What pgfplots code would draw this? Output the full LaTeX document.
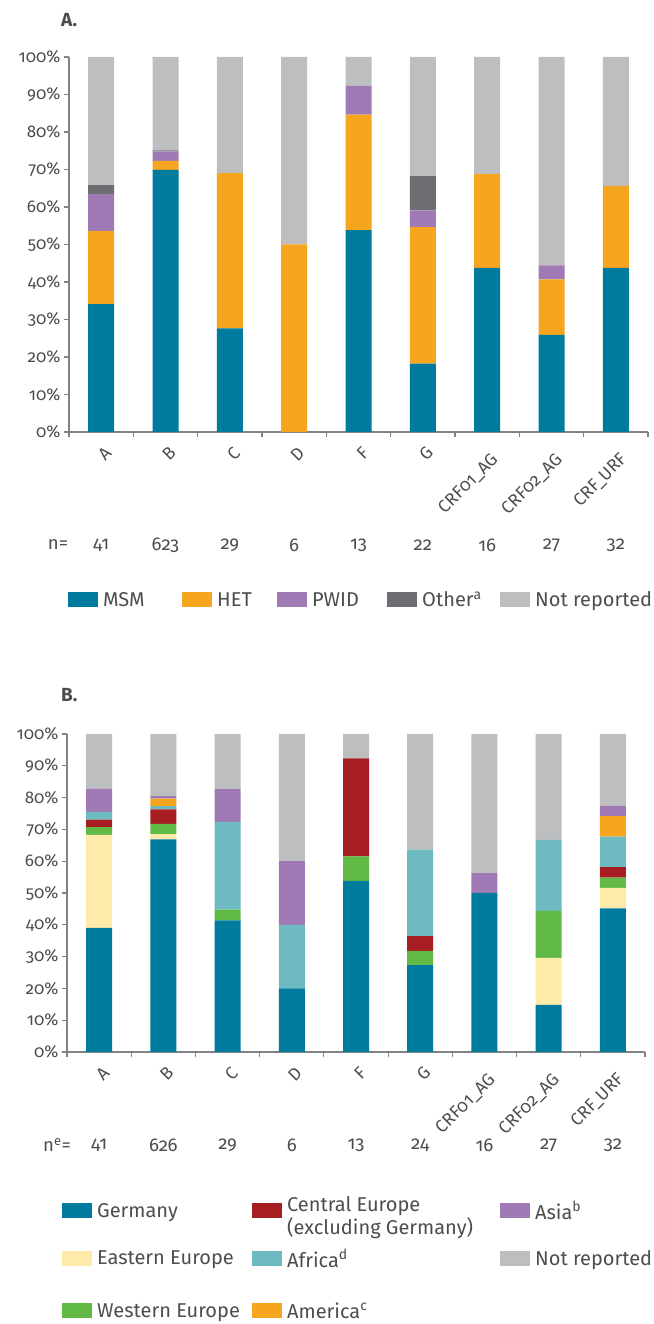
\documentclass[border=0pt]{standalone}
\usepackage{fontspec}
\setmainfont{Fira Sans}[Numbers=OldStyle]
\usepackage{pgfplots}
\pgfplotsset{compat=1.18}
\definecolor{msm}{HTML}{007B9E}
\definecolor{het}{HTML}{F6A51E}
\definecolor{pwid}{HTML}{A07AB4}
\definecolor{oth}{HTML}{6D6E71}
\definecolor{nr}{HTML}{BCBEC0}
\definecolor{cen}{HTML}{A61D22}
\definecolor{eas}{HTML}{FEEBA9}
\definecolor{afr}{HTML}{6DBAC0}
\definecolor{wes}{HTML}{62BA46}
\definecolor{axisgray}{HTML}{808285}
\definecolor{txt}{HTML}{4D4D4F}
\pgfplotsset{
  swatch/.style={legend image code/.code={\fill[##1] (0pt,-7pt) rectangle (30pt,8pt);}},
  swatchtall/.style={legend image code/.code={\path[fill=none,draw=none] (0pt,-7pt) rectangle (30pt,19pt); \fill[##1] (0pt,-7pt) rectangle (30pt,8pt);}},
  mybars/.style={
    ybar stacked, bar width=26pt, scale only axis, clip=false,
    xmin=-0.5, xmax=8.5, ymin=0, ymax=100,
    axis lines*=left,
    axis line style={draw=axisgray, line width=1.2pt, -},
    xtick={-0.5,0.5,...,8.5}, xticklabels={},
    ytick={0,10,...,100},
    yticklabels={0\%,10\%,20\%,30\%,40\%,50\%,60\%,70\%,80\%,90\%,100\%},
    tick align=outside, major tick length=5pt,
    tick style={draw=axisgray, line width=1.2pt},
    yticklabel style={font=\fontsize{17}{19}\selectfont, text=txt},
    every axis plot/.append style={draw=none},
    legend cell align=left,
  },
}
\tikzset{
  cat/.style={rotate=45, anchor=east, font=\fontsize{17.5}{19}\selectfont, text=txt, inner sep=1pt},
  nval/.style={font=\fontsize{18.5}{20}\selectfont, text=txt},
}
\begin{document}
\begin{tikzpicture}[x=1pt,y=1pt]
\useasboundingbox (0,0) rectangle (653,1324);
\node[anchor=west, font=\fontsize{19}{22}\selectfont\bfseries, text=txt, inner sep=0pt] at (61,1304) {A.};
\node[anchor=west, font=\fontsize{19}{22}\selectfont\bfseries, text=txt, inner sep=0pt] at (61,629) {B.};

% ---------------- Panel A ----------------
\begin{axis}[mybars, at={(69pt,892pt)}, anchor=south west, width=579pt, height=375pt,
  legend columns=5,
  legend style={draw=none, fill=none, inner sep=0pt, at={(axis description cs:-0.0017,-0.448)}, anchor=west,
    font=\fontsize{20}{24}\selectfont, text=txt, nodes={inner sep=0pt},
    /tikz/column sep=5pt, /tikz/every even column/.append style={column sep=0pt}},
]
\addplot+[fill=msm, forget plot] coordinates {(0,34.1) (1,69.9) (2,27.6) (3,0) (4,53.8) (5,18.2) (6,43.75) (7,25.9) (8,43.75)};
\addplot+[fill=het, forget plot] coordinates {(0,19.5) (1,2.4) (2,41.4) (3,50) (4,30.8) (5,36.4) (6,25) (7,14.8) (8,21.9)};
\addplot+[fill=pwid, forget plot] coordinates {(0,9.8) (1,2.5) (2,0) (3,0) (4,7.7) (5,4.5) (6,0) (7,3.7) (8,0)};
\addplot+[fill=oth, forget plot] coordinates {(0,2.4) (1,0.3) (2,0) (3,0) (4,0) (5,9.1) (6,0) (7,0) (8,0)};
\addplot+[fill=nr, forget plot] coordinates {(0,34.2) (1,24.9) (2,31) (3,50) (4,7.7) (5,31.8) (6,31.25) (7,55.6) (8,34.35)};
\addlegendimage{swatch, fill=msm}\addlegendentry{\makebox[79pt][l]{MSM}}
\addlegendimage{swatch, fill=het}\addlegendentry{\makebox[60pt][l]{HET}}
\addlegendimage{swatch, fill=pwid}\addlegendentry{\makebox[75pt][l]{PWID}}
\addlegendimage{swatch, fill=oth}\addlegendentry{\makebox[78pt][l]{Other\textsuperscript{a}}}
\addlegendimage{swatch, fill=nr}\addlegendentry{Not reported}
\path (axis cs:0,0) ++(8pt,-17pt) node[cat]{A};
\path (axis cs:1,0) ++(8pt,-17pt) node[cat]{B};
\path (axis cs:2,0) ++(8pt,-17pt) node[cat]{C};
\path (axis cs:3,0) ++(8pt,-17pt) node[cat]{D};
\path (axis cs:4,0) ++(8pt,-17pt) node[cat]{F};
\path (axis cs:5,0) ++(8pt,-17pt) node[cat]{G};
\path (axis cs:6,0) ++(9pt,-24pt) node[cat]{CRF01\_AG};
\path (axis cs:7,0) ++(9pt,-24pt) node[cat]{CRF02\_AG};
\path (axis cs:8,0) ++(9pt,-24pt) node[cat]{CRF\_URF};
\path (axis cs:-0.5,0) ++(-11pt,-113pt) node[nval]{n=};
\path (axis cs:0,0) ++(0pt,-113pt) node[nval]{41};
\path (axis cs:1,0) ++(0pt,-113pt) node[nval]{623};
\path (axis cs:2,0) ++(0pt,-113pt) node[nval]{29};
\path (axis cs:3,0) ++(0pt,-113pt) node[nval]{6};
\path (axis cs:4,0) ++(0pt,-113pt) node[nval]{13};
\path (axis cs:5,0) ++(0pt,-113pt) node[nval]{22};
\path (axis cs:6,0) ++(0pt,-113pt) node[nval]{16};
\path (axis cs:7,0) ++(0pt,-113pt) node[nval]{27};
\path (axis cs:8,0) ++(0pt,-113pt) node[nval]{32};
\end{axis}

% ---------------- Panel B ----------------
\begin{axis}[mybars, at={(67pt,272pt)}, anchor=south west, width=578pt, height=318pt,
  legend columns=3,
  legend style={draw=none, fill=none, inner sep=0pt, at={(axis description cs:-0.0087,-0.4525)}, anchor=north west,
    font=\fontsize{20}{22}\selectfont, text=txt, nodes={inner sep=0pt},
    /tikz/column sep=5pt, /tikz/every even column/.append style={column sep=0pt},
    /tikz/row sep=23.5pt},
]
\addplot+[fill=msm, forget plot] coordinates {(0,39.0) (1,66.9) (2,41.4) (3,20) (4,53.8) (5,27.3) (6,50) (7,14.8) (8,45.2)};
\addplot+[fill=eas, forget plot] coordinates {(0,29.3) (1,1.6) (2,0) (3,0) (4,0) (5,0) (6,0) (7,14.8) (8,6.4)};
\addplot+[fill=wes, forget plot] coordinates {(0,2.4) (1,3.2) (2,3.4) (3,0) (4,7.7) (5,4.5) (6,0) (7,14.8) (8,3.2)};
\addplot+[fill=cen, forget plot] coordinates {(0,2.4) (1,4.6) (2,0) (3,0) (4,30.8) (5,4.6) (6,0) (7,0) (8,3.3)};
\addplot+[fill=afr, forget plot] coordinates {(0,2.4) (1,1.0) (2,27.6) (3,20) (4,0) (5,27.2) (6,0) (7,22.3) (8,9.6)};
\addplot+[fill=het, forget plot] coordinates {(0,0) (1,2.4) (2,0) (3,0) (4,0) (5,0) (6,0) (7,0) (8,6.5)};
\addplot+[fill=pwid, forget plot] coordinates {(0,7.3) (1,0.8) (2,10.3) (3,20) (4,0) (5,0) (6,6.25) (7,0) (8,3.2)};
\addplot+[fill=nr, forget plot] coordinates {(0,17.2) (1,19.5) (2,17.3) (3,40) (4,7.7) (5,36.4) (6,43.75) (7,33.3) (8,22.6)};
\addlegendimage{swatch, fill=msm}\addlegendentry{\makebox[155pt][l]{Germany}}
\addlegendimage{swatch, fill=cen}\addlegendentry{\makebox[213pt][l]{\begin{tabular}{@{}l@{}}Central Europe\\(excluding Germany)\end{tabular}}}
\addlegendimage{swatch, fill=pwid}\addlegendentry{Asia\textsuperscript{b}}
\addlegendimage{swatch, fill=eas}\addlegendentry{\makebox[155pt][l]{Eastern Europe}}
\addlegendimage{swatch, fill=afr}\addlegendentry{\makebox[213pt][l]{Africa\textsuperscript{d}}}
\addlegendimage{swatch, fill=nr}\addlegendentry{Not reported}
\addlegendimage{swatchtall, fill=wes}\addlegendentry{\makebox[155pt][l]{Western Europe}}
\addlegendimage{swatchtall, fill=het}\addlegendentry{\makebox[213pt][l]{America\textsuperscript{c}}}
\path (axis cs:0,0) ++(8pt,-17pt) node[cat]{A};
\path (axis cs:1,0) ++(8pt,-17pt) node[cat]{B};
\path (axis cs:2,0) ++(8pt,-17pt) node[cat]{C};
\path (axis cs:3,0) ++(8pt,-17pt) node[cat]{D};
\path (axis cs:4,0) ++(8pt,-17pt) node[cat]{F};
\path (axis cs:5,0) ++(8pt,-17pt) node[cat]{G};
\path (axis cs:6,0) ++(9pt,-24pt) node[cat]{CRF01\_AG};
\path (axis cs:7,0) ++(9pt,-24pt) node[cat]{CRF02\_AG};
\path (axis cs:8,0) ++(9pt,-24pt) node[cat]{CRF\_URF};
\path (axis cs:-0.5,0) ++(-10pt,-93pt) node[nval]{n\textsuperscript{e}=};
\path (axis cs:0,0) ++(0pt,-93pt) node[nval]{41};
\path (axis cs:1,0) ++(0pt,-93pt) node[nval]{626};
\path (axis cs:2,0) ++(0pt,-93pt) node[nval]{29};
\path (axis cs:3,0) ++(0pt,-93pt) node[nval]{6};
\path (axis cs:4,0) ++(0pt,-93pt) node[nval]{13};
\path (axis cs:5,0) ++(0pt,-93pt) node[nval]{24};
\path (axis cs:6,0) ++(0pt,-93pt) node[nval]{16};
\path (axis cs:7,0) ++(0pt,-93pt) node[nval]{27};
\path (axis cs:8,0) ++(0pt,-93pt) node[nval]{32};
\end{axis}
\end{tikzpicture}
\end{document}
